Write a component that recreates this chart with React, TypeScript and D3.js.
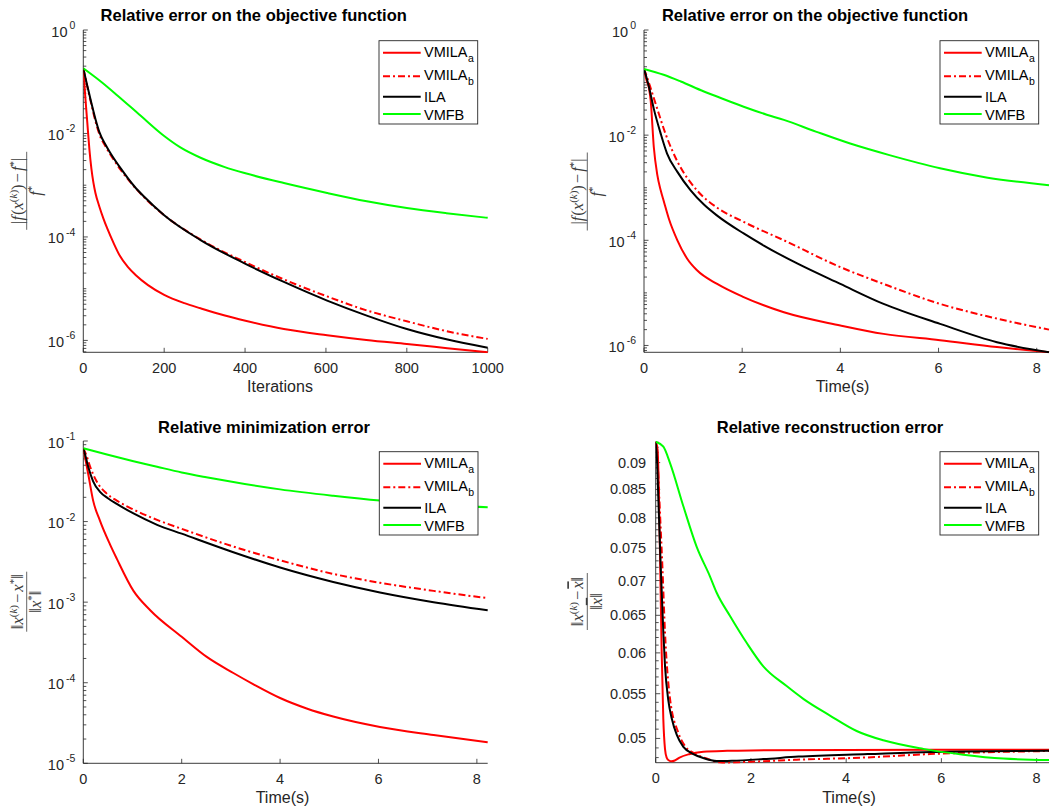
import React from "react";
import * as d3 from "d3";

type Pt = [number, number];

// ---------- Relative error on the objective function vs iterations ----------
const objIterVMILAa: Pt[] = [
  [0, 0.182], [5, 0.0501], [10, 0.0158], [15, 0.00501], [20, 0.00209], [25, 0.00112], [30, 7.08e-4],
  [40, 3.8e-4], [50, 2.24e-4], [60, 1.41e-4], [75, 7.59e-5], [90, 4.37e-5], [110, 2.63e-5],
  [130, 1.82e-5], [160, 1.17e-5], [200, 7.59e-6], [250, 5.25e-6], [290, 4.17e-6], [350, 3.02e-6],
  [401, 2.4e-6], [496, 1.66e-6], [603, 1.26e-6], [700, 1.02e-6], [800, 8.51e-7], [900, 7.08e-7],
  [1000, 5.89e-7],
];
const objIterVMILAb: Pt[] = [
  [0, 0.182], [10, 0.0794], [20, 0.0363], [30, 0.0174], [40, 0.00955], [55, 0.00562],
  [68, 0.0038], [93, 0.00195], [126, 9.33e-4], [150, 5.89e-4], [200, 2.63e-4], [290, 8.91e-5],
  [401, 3.24e-5], [496, 1.51e-5], [603, 7.08e-6], [701, 3.8e-6], [800, 2.34e-6], [898, 1.51e-6],
  [1000, 1.07e-6],
];
const objIterILA: Pt[] = [
  [0, 0.182], [10, 0.0832], [20, 0.0389], [30, 0.0191], [40, 0.0105], [55, 0.00603],
  [68, 0.00407], [93, 0.00209], [126, 9.55e-4], [150, 6.03e-4], [200, 2.63e-4], [290, 8.71e-5],
  [401, 3.02e-5], [496, 1.35e-5], [603, 5.89e-6], [701, 3.02e-6], [800, 1.66e-6], [898, 1.05e-6],
  [1000, 7.24e-7],
];
const objIterVMFB: Pt[] = [
  [0, 0.182], [44, 0.1], [85, 0.0537], [142, 0.0219], [200, 0.00891], [240, 0.00537],
  [290, 0.00339], [350, 0.00224], [401, 0.0017], [496, 0.0011], [603, 7.08e-4], [701, 4.9e-4],
  [800, 3.63e-4], [898, 2.88e-4], [1000, 2.34e-4],
];

// ---------- Relative error on the objective function vs time ----------
const objTimeVMILAa: Pt[] = [
  [0, 0.182], [0.05, 0.112], [0.1, 0.0794], [0.136, 0.0457], [0.2, 0.00589], [0.27, 0.00178],
  [0.34, 8.91e-4], [0.41, 5.25e-4], [0.51, 2.51e-4], [0.68, 1.0e-4], [0.88, 4.47e-5], [1.08, 2.69e-5],
  [1.49, 1.48e-5], [2.03, 8.32e-6], [2.85, 4.27e-6], [4.0, 2.4e-6], [4.88, 1.66e-6], [6.03, 1.26e-6],
  [7.19, 9.33e-7], [8.25, 7.41e-7],
];
const objTimeVMILAb: Pt[] = [
  [0, 0.182], [0.07, 0.12], [0.14, 0.0759], [0.27, 0.0316], [0.44, 0.0105], [0.68, 0.00316],
  [1.08, 8.91e-4], [1.49, 4.17e-4], [2.03, 2.24e-4], [2.85, 1.0e-4], [4.0, 3.09e-5], [4.88, 1.48e-5],
  [6.03, 6.17e-6], [7.19, 3.24e-6], [8.25, 2.0e-6],
];
const objTimeILA: Pt[] = [
  [0, 0.182], [0.05, 0.126], [0.1, 0.0832], [0.2, 0.0316], [0.34, 0.0107], [0.47, 0.00447],
  [0.68, 0.002], [0.95, 8.91e-4], [1.22, 4.79e-4], [1.49, 2.95e-4], [2.03, 1.35e-4], [2.44, 7.94e-5],
  [3.12, 3.63e-5], [4.0, 1.48e-5], [4.88, 6.17e-6], [6.03, 2.57e-6], [7.19, 1.15e-6], [8.25, 7.41e-7],
];
const objTimeVMFB: Pt[] = [
  [0, 0.182], [0.4, 0.141], [0.75, 0.105], [1.22, 0.0676], [1.5, 0.0537], [2.03, 0.0347],
  [2.5, 0.0245], [2.85, 0.0195], [3.5, 0.0117], [4.2, 0.00692], [5.0, 0.00417], [6.03, 0.00234],
  [7.0, 0.00155], [8.25, 0.00112],
];

// ---------- Relative minimization error vs time ----------
const minErrVMILAa: Pt[] = [
  [0, 0.0813], [0.05, 0.0562], [0.1, 0.0389], [0.2, 0.0182], [0.34, 0.0102], [0.54, 0.00525],
  [0.68, 0.00347], [1.02, 0.00138], [1.36, 7.94e-4], [2.0, 3.72e-4], [2.51, 2.09e-4], [3.05, 1.32e-4],
  [3.46, 9.55e-5], [4.0, 6.46e-5], [4.54, 4.79e-5], [5.08, 3.8e-5], [6.03, 2.82e-5], [7.12, 2.24e-5],
  [8.22, 1.82e-5],
];
const minErrVMILAb: Pt[] = [
  [0, 0.0813], [0.07, 0.0646], [0.14, 0.0479], [0.27, 0.0316], [0.47, 0.0224], [0.68, 0.0182],
  [1.02, 0.0141], [1.5, 0.0105], [2.0, 0.00813], [3.05, 0.0049], [4.0, 0.00331], [5.08, 0.00224],
  [6.03, 0.00174], [7.12, 0.00138], [8.22, 0.00112],
];
const minErrILA: Pt[] = [
  [0, 0.0813], [0.05, 0.0631], [0.1, 0.0479], [0.2, 0.0316], [0.34, 0.0234], [0.5, 0.0195],
  [0.68, 0.0166], [1.02, 0.0126], [1.5, 0.00912], [2.0, 0.00708], [3.05, 0.00417], [4.0, 0.00269],
  [5.08, 0.00178], [6.03, 0.00132], [7.12, 0.001], [8.22, 7.94e-4],
];
const minErrVMFB: Pt[] = [
  [0, 0.0813], [0.5, 0.0676], [1.02, 0.0562], [1.5, 0.0479], [2.0, 0.0407], [2.5, 0.0355],
  [3.05, 0.0309], [4.0, 0.0251], [5.08, 0.0209], [6.03, 0.0182], [7.12, 0.0162], [8.22, 0.0151],
];

// ---------- Relative reconstruction error vs time ----------
const recErrVMILAa: Pt[] = [
  [0, 0.0941], [0.04, 0.0925], [0.07, 0.083], [0.09, 0.0741], [0.126, 0.06], [0.16, 0.0521],
  [0.195, 0.0489], [0.23, 0.048], [0.28, 0.0477], [0.33, 0.04762], [0.4, 0.0477], [0.5, 0.048],
  [0.7, 0.04835], [1.0, 0.0486], [1.5, 0.0487], [2.0, 0.04874], [4.0, 0.04878], [8.26, 0.04881],
];
const recErrVMILAb: Pt[] = [
  [0, 0.0941], [0.04, 0.0905], [0.077, 0.0832], [0.14, 0.0722], [0.196, 0.0626], [0.301, 0.0544],
  [0.476, 0.0506], [0.616, 0.0492], [0.826, 0.0484], [1.071, 0.0479], [1.4, 0.04748], [2.0, 0.04758],
  [2.96, 0.04778], [4.36, 0.048], [5.76, 0.04836], [8.26, 0.04868],
];
const recErrILA: Pt[] = [
  [0, 0.0941], [0.03, 0.09], [0.056, 0.0832], [0.105, 0.0722], [0.161, 0.0626], [0.196, 0.0583],
  [0.266, 0.0542], [0.336, 0.0522], [0.441, 0.0504], [0.581, 0.0491], [0.791, 0.04836], [1.0, 0.04795],
  [1.28, 0.04765], [1.6, 0.04768], [2.26, 0.04785], [3.0, 0.0481], [4.45, 0.04836], [5.8, 0.04858],
  [8.26, 0.04871],
];
const recErrVMFB: Pt[] = [
  [0, 0.0941], [0.161, 0.0931], [0.301, 0.0899], [0.581, 0.082], [0.861, 0.0752], [1.141, 0.0706],
  [1.281, 0.0682], [1.561, 0.0649], [1.91, 0.0613], [2.26, 0.0583], [2.75, 0.0559], [3.1, 0.0544],
  [3.66, 0.0525], [4.22, 0.0508], [4.78, 0.0498], [5.62, 0.0489], [6.46, 0.0483], [7.3, 0.0479],
  [8.26, 0.04775],
];

// ---------- legend / series styling ----------
const seriesNames = ["VMILA", "VMILA", "ILA", "VMFB"];
const seriesSubs = ["a", "b", "", ""];
const seriesColors = ["#ff0000", "#ff0000", "#000000", "#00ff00"];
const seriesDash = ["", "7,3,2,3", "", ""];

// tick values
const iterTicks = [0, 200, 400, 600, 800, 1000];
const timeTicks = [0, 2, 4, 6, 8];
const objExpTicks = [0, -2, -4, -6];
const minExpTicks = [-1, -2, -3, -4, -5];
const recTicks = [0.05, 0.055, 0.06, 0.065, 0.07, 0.075, 0.08, 0.085, 0.09];

const SANS = '"Liberation Sans", Arial, Helvetica, sans-serif';
const SERIF = '"Liberation Serif", "DejaVu Serif", "Times New Roman", serif';
const INK = "#262626";

interface PanelProps {
  id: string;
  left: number;
  right: number;
  top: number;
  bottom: number;
  data: Pt[][];
  xTicks: number[];
  yDomain: [number, number];
  yFormat: "pow" | "dec";
  yMajor: number[];
  yMinor: number[];
  title: string;
  titleX: number;
  titleY: number;
  xLabel: string;
  xLabelX: number;
  xLabelY: number;
  legendX: number;
  legendY: number;
}

function Legend({ x, y }: { x: number; y: number }) {
  const w = 98.7;
  const h = 83.3;
  const lineY = [12, 35.6, 56, 73.3];
  const textY = [16.2, 38.8, 61.4, 79];
  return (
    <g>
      <rect x={x} y={y} width={w} height={h} fill="#fff" stroke={INK} strokeWidth={0.9} />
      {seriesNames.map((name, i) => (
        <g key={i}>
          <line
            x1={x + 4}
            x2={x + 41.7}
            y1={y + lineY[i]}
            y2={y + lineY[i]}
            stroke={seriesColors[i]}
            strokeWidth={2}
            strokeDasharray={seriesDash[i] || undefined}
          />
          <text x={x + 45} y={y + textY[i]} fontFamily={SANS} fontSize={14.5} fill="#000">
            {name}
            {seriesSubs[i] ? (
              <tspan fontSize={10.5} dy={5} dx={0.5}>
                {seriesSubs[i]}
              </tspan>
            ) : null}
          </text>
        </g>
      ))}
    </g>
  );
}

function Panel(p: PanelProps) {
  const xMax = d3.max(p.data, (s) => d3.max(s, (d) => d[0])) as number;
  const x = d3.scaleLinear().domain([0, xMax]).range([p.left, p.right]);
  const y = d3.scaleLog().domain(p.yDomain).range([p.bottom, p.top]);
  const line = d3
    .line<Pt>()
    .x((d) => x(d[0]))
    .y((d) => y(d[1]))
    .curve(d3.curveMonotoneX);
  const clipId = `clip-${p.id}`;
  const majLen = 4.5;
  const minLen = 3;
  return (
    <g>
      <defs>
        <clipPath id={clipId}>
          <rect x={p.left} y={p.top - 1} width={p.right - p.left + 1} height={p.bottom - p.top + 2} />
        </clipPath>
      </defs>
      {/* axis lines */}
      <line x1={p.left} x2={p.left} y1={p.top} y2={p.bottom} stroke={INK} strokeWidth={0.9} />
      <line x1={p.left} x2={p.right} y1={p.bottom} y2={p.bottom} stroke={INK} strokeWidth={0.9} />
      {/* y ticks */}
      {p.yMinor.map((v, i) => (
        <line key={`ym${i}`} x1={p.left} x2={p.left + minLen} y1={y(v)} y2={y(v)} stroke={INK} strokeWidth={0.8} />
      ))}
      {p.yMajor.map((v, i) => (
        <g key={`yM${i}`}>
          <line x1={p.left} x2={p.left + majLen} y1={y(v)} y2={y(v)} stroke={INK} strokeWidth={0.8} />
          {p.yFormat === "pow" ? (
            <text
              x={p.left - 8}
              y={y(v) + 6.5}
              textAnchor="end"
              fontFamily={SANS}
              fontSize={14.5}
              fill={INK}
            >
              10
              <tspan fontSize={10.5} dy={-7.5} dx={2}>
                {String(Math.round(Math.log10(v)))}
              </tspan>
            </text>
          ) : (
            <text
              x={p.left - 9.5}
              y={y(v) + 5}
              textAnchor="end"
              fontFamily={SANS}
              fontSize={14.5}
              fill={INK}
            >
              {String(v)}
            </text>
          )}
        </g>
      ))}
      {/* x ticks */}
      {p.xTicks.map((v, i) => (
        <g key={`x${i}`}>
          <line x1={x(v)} x2={x(v)} y1={p.bottom} y2={p.bottom - majLen} stroke={INK} strokeWidth={0.8} />
          <text x={x(v)} y={p.bottom + 20.5} textAnchor="middle" fontFamily={SANS} fontSize={14.5} fill={INK}>
            {String(v)}
          </text>
        </g>
      ))}
      {/* curves */}
      <g clipPath={`url(#${clipId})`}>
        {p.data.map((s, i) => (
          <path
            key={i}
            d={line(s) || ""}
            fill="none"
            stroke={seriesColors[i]}
            strokeWidth={2}
            strokeDasharray={seriesDash[i] || undefined}
            strokeLinejoin="round"
          />
        ))}
      </g>
      {/* title and x label */}
      <text x={p.titleX} y={p.titleY} textAnchor="middle" fontFamily={SANS} fontWeight="bold" fontSize={16.5} fill="#000">
        {p.title}
      </text>
      <text x={p.xLabelX} y={p.xLabelY} textAnchor="middle" fontFamily={SANS} fontSize={16} fill={INK}>
        {p.xLabel}
      </text>
      <Legend x={p.legendX} y={p.legendY} />
    </g>
  );
}

// a rotated LaTeX-like fraction used as the y-axis label
function FracLabel({
  cx,
  cy,
  barLen,
  num,
  den,
}: {
  cx: number;
  cy: number;
  barLen: number;
  num: React.ReactNode;
  den: React.ReactNode;
}) {
  return (
    <g transform={`translate(${cx},${cy}) rotate(-90)`} fill="#3c3c3c" fontFamily={SERIF}>
      <text x={0} y={-4} textAnchor="middle" fontSize={16.5}>
        {num}
      </text>
      <line x1={-barLen / 2} x2={barLen / 2} y1={0} y2={0} stroke="#3c3c3c" strokeWidth={0.8} />
      <text x={0} y={14.5} textAnchor="middle" fontSize={16.5}>
        {den}
      </text>
    </g>
  );
}

const SUP = 11;

const objNum = (
  <>
    <tspan>|</tspan>
    <tspan fontStyle="italic">f</tspan>
    <tspan dx={1}>(</tspan>
    <tspan fontStyle="italic">x</tspan>
    <tspan fontSize={SUP} dy={-6}>(</tspan>
    <tspan fontSize={SUP} fontStyle="italic">k</tspan>
    <tspan fontSize={SUP}>)</tspan>
    <tspan dy={6}>)</tspan>
    <tspan dx={2}>−</tspan>
    <tspan dx={2} fontStyle="italic">f</tspan>
    <tspan fontSize={SUP} dy={-6}>*</tspan>
    <tspan dy={6}>|</tspan>
  </>
);
const objDen = (
  <>
    <tspan fontStyle="italic">f</tspan>
    <tspan fontSize={SUP} dy={-6}>*</tspan>
  </>
);
const minNum = (
  <>
    <tspan>‖</tspan>
    <tspan fontStyle="italic">x</tspan>
    <tspan fontSize={SUP} dy={-6}>(</tspan>
    <tspan fontSize={SUP} fontStyle="italic">k</tspan>
    <tspan fontSize={SUP}>)</tspan>
    <tspan dy={6} dx={2}>−</tspan>
    <tspan dx={2} fontStyle="italic">x</tspan>
    <tspan fontSize={SUP} dy={-6}>*</tspan>
    <tspan dy={6}>‖</tspan>
  </>
);
const minDen = (
  <>
    <tspan>‖</tspan>
    <tspan fontStyle="italic">x</tspan>
    <tspan fontSize={SUP} dy={-6}>*</tspan>
    <tspan dy={6}>‖</tspan>
  </>
);
const recNum = (
  <>
    <tspan>‖</tspan>
    <tspan fontStyle="italic">x</tspan>
    <tspan fontSize={SUP} dy={-6}>(</tspan>
    <tspan fontSize={SUP} fontStyle="italic">k</tspan>
    <tspan fontSize={SUP}>)</tspan>
    <tspan dy={6} dx={2}>−</tspan>
    <tspan dx={2} fontStyle="italic" textDecoration="overline">x</tspan>
    <tspan>‖</tspan>
  </>
);
const recDen = (
  <>
    <tspan>‖</tspan>
    <tspan fontStyle="italic" textDecoration="overline">x</tspan>
    <tspan>‖</tspan>
  </>
);

function logMinor(lo: number, hi: number, majors: number[]): number[] {
  const out: number[] = [];
  for (let k = Math.floor(Math.log10(lo)); k <= Math.ceil(Math.log10(hi)); k++) {
    for (let m = 1; m <= 9; m++) {
      const v = m * Math.pow(10, k);
      if (v >= lo * 0.999 && v <= hi * 1.001 && !majors.some((M) => Math.abs(M - v) / v < 1e-6)) out.push(v);
    }
  }
  return out;
}

export default function App() {
  const objIterMin = d3.min([objIterVMILAa, objIterVMILAb, objIterILA, objIterVMFB].flat(), (d) => d[1]) as number;
  const objTimeMin = d3.min([objTimeVMILAa, objTimeVMILAb, objTimeILA, objTimeVMFB].flat(), (d) => d[1]) as number;
  const recAll = [recErrVMILAa, recErrVMILAb, recErrILA, recErrVMFB].flat();
  const recDomain = d3.extent(recAll, (d) => d[1]) as [number, number];

  const objMajor = objExpTicks.map((e) => Math.pow(10, e));
  const minMajor = minExpTicks.map((e) => Math.pow(10, e));
  const recMinor = d3
    .range(48, 95)
    .map((k) => k / 1000)
    .filter((v) => v >= recDomain[0] && v <= recDomain[1] && !recTicks.some((t) => Math.abs(t - v) < 1e-9));

  return (
    <svg
      width={1052}
      height={812}
      style={{ position: "absolute", left: 0, top: 0, background: "#fff" }}
    >
      <rect x={0} y={0} width={1052} height={812} fill="#fff" />
      <Panel
        id="p1"
        left={83.3}
        right={487.7}
        top={30}
        bottom={352.3}
        data={[objIterVMILAa, objIterVMILAb, objIterILA, objIterVMFB]}
        xTicks={iterTicks}
        yDomain={[objIterMin, 1]}
        yFormat="pow"
        yMajor={objMajor}
        yMinor={logMinor(objIterMin, 1, objMajor)}
        title="Relative error on the objective function"
        titleX={253.7}
        titleY={21}
        xLabel="Iterations"
        xLabelX={280}
        xLabelY={391.5}
        legendX={379}
        legendY={40.7}
      />
      <Panel
        id="p2"
        left={644}
        right={1049}
        top={30}
        bottom={352.3}
        data={[objTimeVMILAa, objTimeVMILAb, objTimeILA, objTimeVMFB]}
        xTicks={timeTicks}
        yDomain={[objTimeMin, 1]}
        yFormat="pow"
        yMajor={objMajor}
        yMinor={logMinor(objTimeMin, 1, objMajor)}
        title="Relative error on the objective function"
        titleX={815}
        titleY={21}
        xLabel="Time(s)"
        xLabelX={842.5}
        xLabelY={391.5}
        legendX={940}
        legendY={40.7}
      />
      <Panel
        id="p3"
        left={83.3}
        right={487.7}
        top={441}
        bottom={763.3}
        data={[minErrVMILAa, minErrVMILAb, minErrILA, minErrVMFB]}
        xTicks={timeTicks}
        yDomain={[1e-5, 1e-1]}
        yFormat="pow"
        yMajor={minMajor}
        yMinor={logMinor(1e-5, 1e-1, minMajor)}
        title="Relative minimization error"
        titleX={264}
        titleY={433}
        xLabel="Time(s)"
        xLabelX={282.5}
        xLabelY={803}
        legendX={379.3}
        legendY={451.7}
      />
      <Panel
        id="p4"
        left={655.7}
        right={1049}
        top={441.7}
        bottom={762.7}
        data={[recErrVMILAa, recErrVMILAb, recErrILA, recErrVMFB]}
        xTicks={timeTicks}
        yDomain={recDomain}
        yFormat="dec"
        yMajor={recTicks}
        yMinor={recMinor}
        title="Relative reconstruction error"
        titleX={830}
        titleY={433}
        xLabel="Time(s)"
        xLabelX={849}
        xLabelY={803}
        legendX={940}
        legendY={451.7}
      />
      <FracLabel cx={26.7} cy={190.8} barLen={78} num={objNum} den={objDen} />
      <FracLabel cx={587.3} cy={191.5} barLen={78} num={objNum} den={objDen} />
      <FracLabel cx={26.7} cy={601.7} barLen={60} num={minNum} den={minDen} />
      <FracLabel cx={587.3} cy={601.5} barLen={57} num={recNum} den={recDen} />
    </svg>
  );
}
